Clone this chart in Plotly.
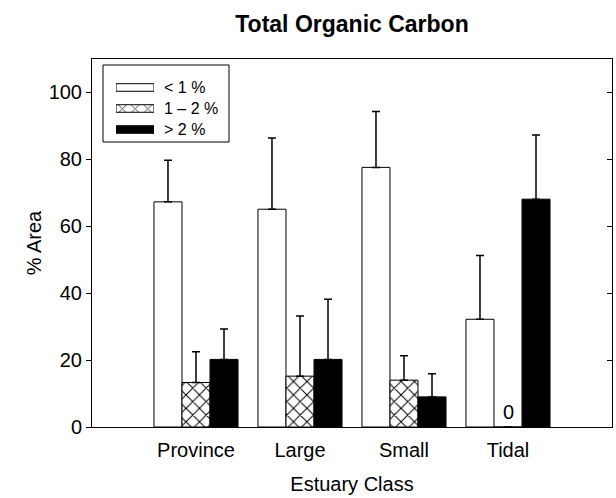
import plotly.graph_objects as go

# Estuary classes and percent-area by total organic carbon class
classes = ["Province", "Large", "Small", "Tidal"]

toc_lt1 = [67.3, 65.1, 77.6, 32.2]
toc_lt1_err = [12.4, 21.3, 16.7, 19.1]

toc_1to2 = [13.3, 15.2, 14.0, 0.0]
toc_1to2_err = [9.2, 18.0, 7.3, None]

toc_gt2 = [20.2, 20.2, 9.0, 68.1]
toc_gt2_err = [9.1, 18.0, 6.9, 19.2]

series_names = ["< 1 %", "1 \u2013 2 %", "> 2 %"]

FONT = "Liberation Sans, Arial, sans-serif"
HATCH = dict(shape="x", size=9.5, solidity=0.2, fgcolor="black",
             fgopacity=1, bgcolor="white")

fig = go.Figure()


def add_series(values, errors, name, color, pattern):
    fig.add_trace(go.Bar(
        x=classes, y=values, name=name, showlegend=False,
        marker=dict(color=color, line=dict(color="black", width=1),
                    pattern=pattern),
        error_y=dict(type="data", symmetric=False, array=errors,
                     arrayminus=[0] * len(values), color="black",
                     thickness=1.5, width=4),
    ))


add_series(toc_lt1, toc_lt1_err, series_names[0], "white", None)
add_series(toc_1to2, toc_1to2_err, series_names[1], "white", HATCH)
add_series(toc_gt2, toc_gt2_err, series_names[2], "black", None)

# label bars whose value is zero
for cat, v in zip(classes, toc_1to2):
    if v == 0:
        fig.add_annotation(x=cat, y=v, text=f"{v:g}", showarrow=False,
                           yanchor="bottom", yshift=2,
                           font=dict(family=FONT, size=20, color="black"))

# legend keys: wide rectangles drawn as horizontal bars on an inset axis
fig.add_trace(go.Bar(
    y=series_names, x=[1, 1, 1], orientation="h", width=0.36,
    xaxis="x3", yaxis="y3", showlegend=False, hoverinfo="skip",
    marker=dict(color=["white", "white", "black"],
                line=dict(color="black", width=1),
                pattern=dict(shape=["", "x", ""], size=9, solidity=0.2,
                             fgcolor="black", fgopacity=1, bgcolor="white")),
))
fig.add_shape(type="rect", xref="paper", yref="paper",
              x0=(103 - 92) / 520, x1=(229 - 92) / 520,
              y0=(427 - 142) / 368, y1=(427 - 65) / 368,
              line=dict(color="black", width=1), fillcolor="rgba(0,0,0,0)")

fig.update_layout(
    width=616, height=498,
    margin=dict(l=92, r=4, t=59, b=71),
    paper_bgcolor="white", plot_bgcolor="white",
    barmode="group", bargap=0.192, bargroupgap=0,
    font=dict(family=FONT, size=20, color="black"),
    title=dict(text="<b>Total Organic Carbon</b>", x=352 / 616, xanchor="center",
               y=1 - 24 / 498, yanchor="middle",
               font=dict(family=FONT, size=23, color="black")),
    xaxis=dict(range=[-1, 4], showline=True, mirror=True, linecolor="black",
               linewidth=1, ticks="", showgrid=False, zeroline=False,
               ticklabelstandoff=5,
               title=dict(text="Estuary Class", standoff=16,
                          font=dict(size=20)),
               tickfont=dict(size=20)),
    yaxis=dict(range=[0, 110], showline=True, mirror=True, linecolor="black",
               linewidth=1, ticks="outside", ticklen=5, tickcolor="black",
               tickvals=[0, 20, 40, 60, 80, 100], showgrid=False,
               zeroline=False, tickfont=dict(size=20),
               title=dict(text="% Area", standoff=1, font=dict(size=20))),
    yaxis2=dict(overlaying="y", side="right", range=[0, 110],
                tickvals=[0, 20, 40, 60, 80, 100], ticks="inside", ticklen=5,
                tickcolor="black", showticklabels=False, showgrid=False,
                zeroline=False, showline=False),
    xaxis3=dict(domain=[(116 - 92) / 520, (154 - 92) / 520], range=[0, 1],
                anchor="y3", visible=False, fixedrange=True),
    yaxis3=dict(domain=[(427 - 140) / 368, (427 - 77) / 368], anchor="x3",
                side="right", autorange="reversed", showline=False,
                ticks="", showgrid=False, zeroline=False, ticklabelstandoff=9,
                tickfont=dict(size=16), fixedrange=True),
)

# dummy trace so the right-hand inward tick axis is drawn
fig.add_trace(go.Scatter(x=[None], y=[None], yaxis="y2", showlegend=False,
                         hoverinfo="skip"))

fig.write_html("out.html")
